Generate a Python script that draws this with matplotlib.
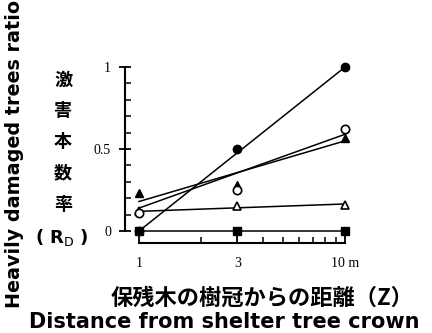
import matplotlib.pyplot as plt
import numpy as np
from matplotlib.ticker import FixedLocator, NullFormatter

# Распределение ущерба в зависимости от расстояния до кроны
dist = [1, 3, 10]
fit_x = [1, 10]

filled_circle = [0.0, 0.50, 1.0]
open_circle = [0.11, 0.25, 0.62]
filled_tri = [0.23, 0.28, 0.57]
open_tri = [0.12, 0.15, 0.16]
filled_sq = [0.0, 0.0, 0.0]

# линии регрессии (значения на концах, с картинки)
fit_filled_circle = [0.0, 1.0]
fit_open_circle = [0.14, 0.59]
fit_filled_tri = [0.18, 0.55]
fit_open_tri = [0.12, 0.165]
fit_filled_sq = [0.0, 0.0]

xticks = [1, 3, 10]
xticklabels = ['1', '3', '10 m']
yticks = [0, 0.5, 1]
yticklabels = ['0', '0.5', '1']

W, H = 432, 333
fig = plt.figure(figsize=(4.32, 3.33), dpi=100)
ax = fig.add_axes([125 / W, 1 - 243 / H, 230 / W, 183 / H])
ax.set_xscale('log')
ax.set_xlim(0.855, 11.18)
ax.set_ylim(-0.073, 1.043)

lw = 1.1
ax.plot(fit_x, fit_filled_circle, color='black', lw=lw)
ax.plot(fit_x, fit_open_circle, color='black', lw=lw)
ax.plot(fit_x, fit_filled_tri, color='black', lw=lw)
ax.plot(fit_x, fit_open_tri, color='black', lw=lw)
ax.plot(fit_x, fit_filled_sq, color='black', lw=lw)

ms = 6
ax.plot(dist, filled_sq, 's', color='black', ms=ms, zorder=3)
ax.plot(dist, open_tri, '^', mfc='white', mec='black', mew=1.2, ms=ms, zorder=3)
ax.plot(dist, filled_tri, '^', color='black', ms=ms, zorder=3)
ax.plot(dist, open_circle, 'o', mfc='white', mec='black', mew=1.2, ms=ms, zorder=3)
ax.plot(dist, filled_circle, 'o', color='black', ms=ms, zorder=3)

for s in ['top', 'right']:
    ax.spines[s].set_visible(False)
ax.spines['left'].set_bounds(0, 1)
ax.spines['bottom'].set_bounds(1, 10)
ax.spines['left'].set_linewidth(1.5)
ax.spines['bottom'].set_linewidth(1.5)

ax.xaxis.set_major_locator(FixedLocator(xticks))
ax.set_xticklabels(xticklabels, family='Liberation Serif', fontsize=10)
ax.xaxis.set_minor_locator(FixedLocator([2, 4, 5, 6, 7, 8, 9]))
ax.xaxis.set_minor_formatter(NullFormatter())
ax.yaxis.set_major_locator(FixedLocator(yticks))
ax.set_yticklabels(yticklabels, family='Liberation Serif', fontsize=10)
ax.yaxis.set_minor_locator(FixedLocator(np.arange(0.1, 1.0, 0.1)))
ax.tick_params(which='major', direction='in', length=7, width=1.3, pad=10)
ax.tick_params(which='minor', direction='in', length=4, width=1.1)
ax.tick_params(axis='y', which='major', direction='inout', length=8, pad=6)

# подписи осей
fig.text(15 / W, 1 - 154 / H, 'Heavily damaged trees ratio', rotation=90,
         ha='center', va='center', fontsize=13.8, fontweight='bold', family='DejaVu Sans')
for i, ch in enumerate('激害本数率'):
    fig.text(63 / W, 1 - (80 + 31 * i) / H, ch, ha='center', va='center',
             fontsize=13, fontweight='bold', family='Noto Sans CJK JP')
fig.text(62 / W, 1 - 237 / H, r'( R$_\mathrm{D}$ )', ha='center', va='center',
         fontsize=13, fontweight='bold', family='DejaVu Sans')
fig.text(262 / W, 1 - 298 / H, '保残木の樹冠からの距離（Z）', ha='center', va='center',
         fontsize=16, fontweight='bold', family='Noto Sans CJK JP')
fig.text(224 / W, 1 - 322 / H, 'Distance from shelter tree crown', ha='center', va='center',
         fontsize=15, fontweight='bold', family='DejaVu Sans')

fig.savefig('out.png', dpi=100)
